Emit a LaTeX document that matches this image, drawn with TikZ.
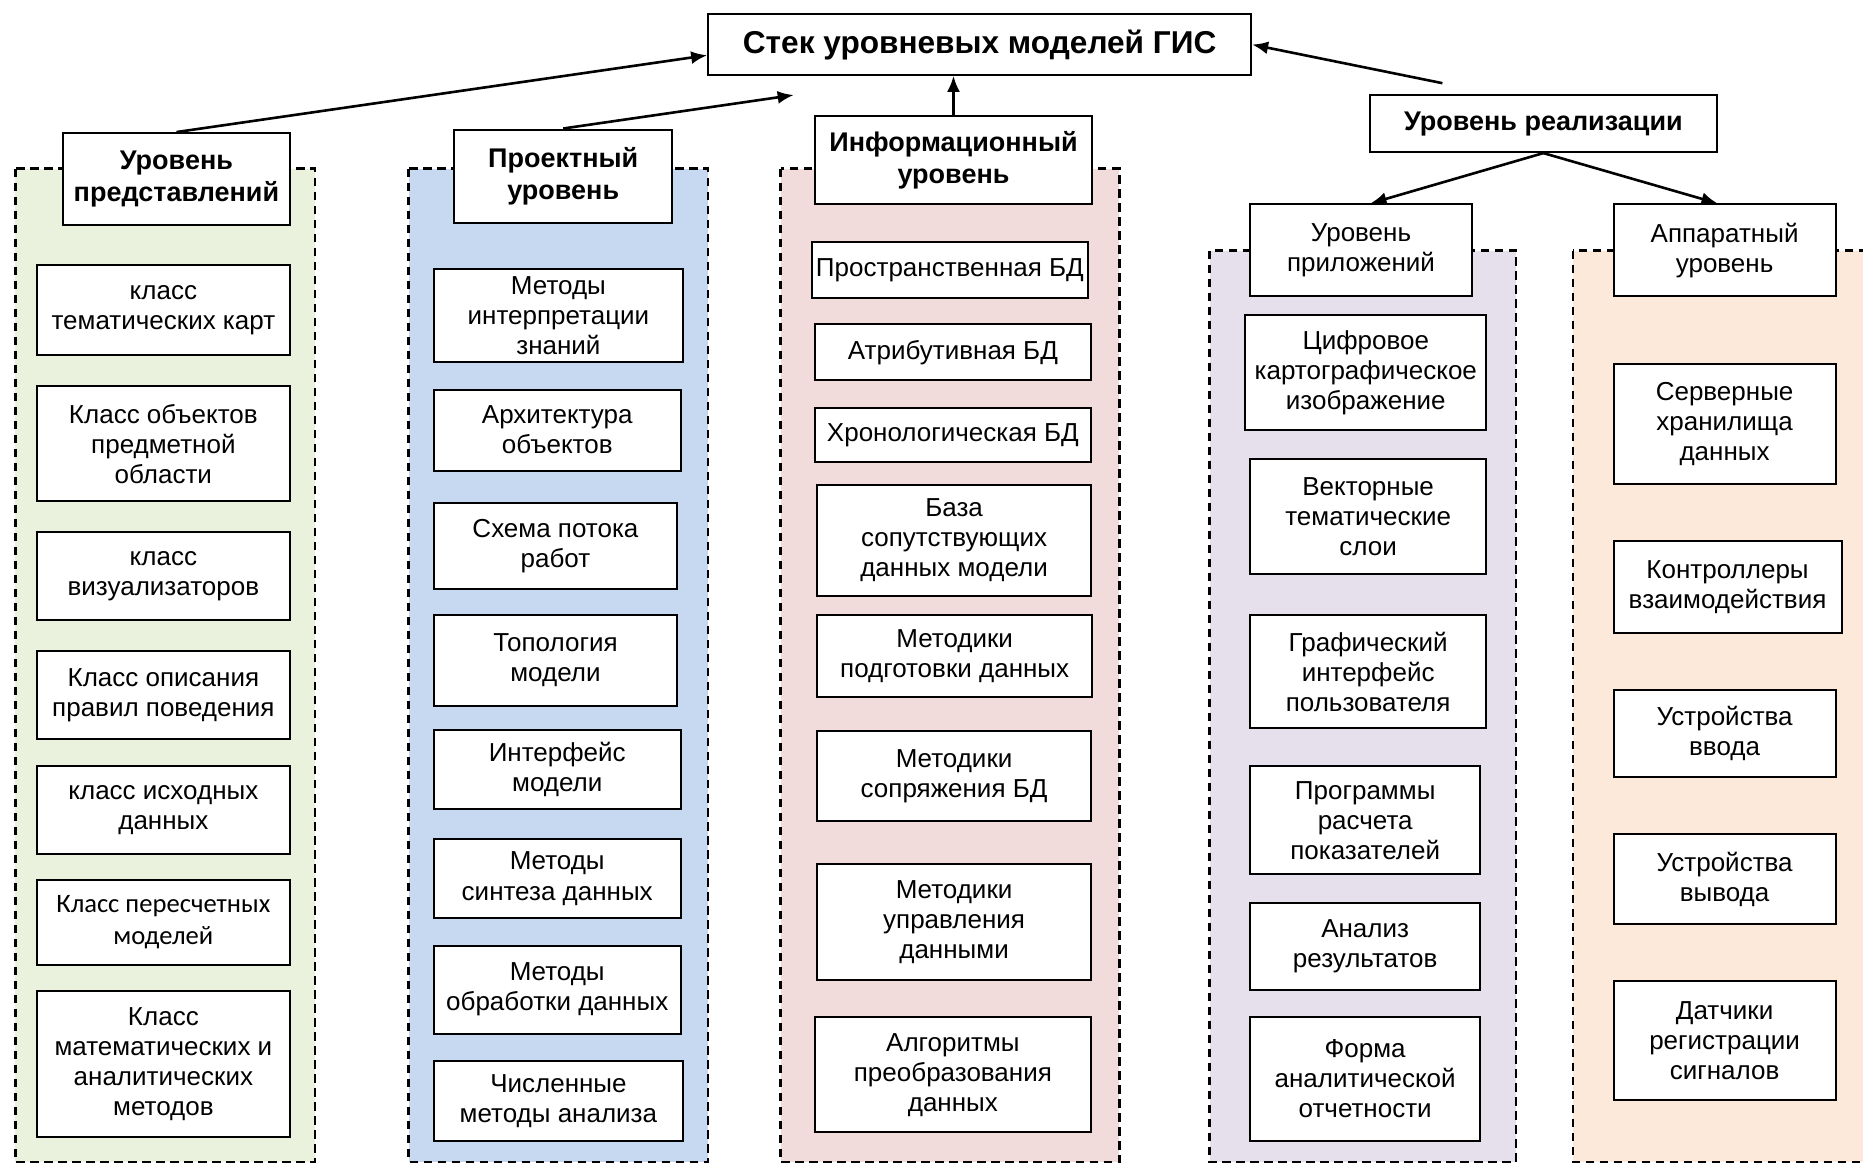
\documentclass[tikz,border=0pt]{standalone}
\usepackage{fontspec}
\setmainfont{Liberation Sans}
\newfontfamily\calibrifont{Carlito}
\usetikzlibrary{arrows.meta,calc}

% a framed box spanning two corners (x1,y1) (x2,y2)
\newcommand\gisbox[7]{%
  \pgfmathsetmacro\gisw{(#5-#3)*0.594}%
  \pgfmathsetmacro\gish{(#6-#4)*0.594}%
  \node[#1,minimum width=\gisw pt,minimum height=\gish pt] (#2)
    at ({(#3+#5)/2},{(#4+#6)/2}) {#7};}

\definecolor{pgreen}{HTML}{EAF1DD}
\definecolor{pblue}{HTML}{C6D9F1}
\definecolor{ppink}{HTML}{F2DCDB}
\definecolor{plav}{HTML}{E5E0EC}
\definecolor{ppeach}{HTML}{FDE9D9}

\begin{document}
\begin{tikzpicture}[x=0.594pt,y=-0.594pt,
  item/.style={draw,fill=white,line width=1pt,inner sep=0pt,align=center,
    font=\fontsize{13}{15}\selectfont},
  head/.style={item,font=\bfseries\fontsize{13.5}{16}\selectfont},
  title/.style={item,font=\bfseries\fontsize{15.8}{18}\selectfont},
  panel/.style={draw,line width=1.3pt,dash pattern=on 4.2pt off 2.8pt},
  arr/.style={-{Latex[length=8pt,width=6.5pt]},line width=1.3pt}]

\path[use as bounding box,clip] (0,0) rectangle (1568,980);
\fill[white] (0,0) rectangle (1568,980);

% dashed level panels
\draw[panel,fill=pgreen] (13,142) rectangle (265,978);
\draw[panel,fill=pblue] (344,142) rectangle (596,978);
\draw[panel,fill=ppink] (657,142) rectangle (942,978);
\draw[panel,fill=plav] (1018,211) rectangle (1276,978);
\draw[panel,fill=ppeach] (1324,211) rectangle (1600,978);

% title and level headers
\gisbox{title}{stack}{596}{12}{1053}{63}{Стек уровневых моделей ГИС}
\gisbox{head}{rep}{53}{112}{244}{189}{Уровень\\представлений}
\gisbox{head}{proj}{382}{109}{566}{188}{Проектный\\уровень}
\gisbox{head}{info}{686}{98}{919}{172}{Информационный\\уровень}
\gisbox{head}{impl}{1153}{80}{1445}{128}{Уровень реализации}
\gisbox{item}{app}{1052}{172}{1239}{249}{Уровень\\приложений}
\gisbox{item}{hw}{1358}{172}{1545}{249}{Аппаратный\\уровень}

% representation level
\gisbox{item}{r1}{31}{223}{244}{299}{класс\\тематических карт}
\gisbox{item}{r2}{31}{325}{244}{422}{Класс объектов\\предметной\\области}
\gisbox{item}{r3}{31}{448}{244}{522}{класс\\визуализаторов}
\gisbox{item}{r4}{31}{548}{244}{622}{Класс описания\\правил поведения}
\gisbox{item}{r5}{31}{645}{244}{719}{класс исходных\\данных}
\gisbox{item,font=\calibrifont\fontsize{13.3}{16}\selectfont}{r6}{31}{741}{244}{812}{Класс пересчетных\\моделей}
\gisbox{item}{r7}{31}{834}{244}{957}{Класс\\математических и\\аналитических\\методов}

% design level
\gisbox{item}{d1}{365}{226}{575}{305}{Методы\\интерпретации\\знаний}
\gisbox{item}{d2}{365}{328}{573}{396}{Архитектура\\объектов}
\gisbox{item}{d3}{365}{423}{570}{496}{Схема потока\\работ}
\gisbox{item}{d4}{365}{518}{570}{594}{Топология\\модели}
\gisbox{item}{d5}{365}{614}{573}{681}{Интерфейс\\модели}
\gisbox{item}{d6}{365}{706}{573}{773}{Методы\\синтеза данных}
\gisbox{item}{d7}{365}{796}{573}{870}{Методы\\обработки данных}
\gisbox{item}{d8}{365}{893}{575}{960}{Численные\\методы анализа}

% information level
\gisbox{item}{i1}{683}{204}{916}{251}{Пространственная БД}
\gisbox{item}{i2}{686}{273}{918}{320}{Атрибутивная БД}
\gisbox{item}{i3}{686}{343}{918}{389}{Хронологическая БД}
\gisbox{item}{i4}{688}{408}{918}{502}{База\\сопутствующих\\данных модели}
\gisbox{item}{i5}{688}{518}{919}{587}{Методики\\подготовки данных}
\gisbox{item}{i6}{688}{615}{918}{691}{Методики\\сопряжения БД}
\gisbox{item}{i7}{688}{727}{918}{825}{Методики\\управления\\данными}
\gisbox{item}{i8}{686}{856}{918}{953}{Алгоритмы\\преобразования\\данных}

% application level
\gisbox{item}{a1}{1048}{265}{1251}{362}{Цифровое\\картографическое\\изображение}
\gisbox{item}{a2}{1052}{386}{1251}{483}{Векторные\\тематические\\слои}
\gisbox{item}{a3}{1052}{518}{1251}{613}{Графический\\интерфейс\\пользователя}
\gisbox{item}{a4}{1052}{645}{1246}{736}{Программы\\расчета\\показателей}
\gisbox{item}{a5}{1052}{760}{1246}{833}{Анализ\\результатов}
\gisbox{item}{a6}{1052}{856}{1246}{960}{Форма\\аналитической\\отчетности}

% hardware level
\gisbox{item}{h1}{1358}{306}{1545}{407}{Серверные\\хранилища\\данных}
\gisbox{item}{h2}{1358}{455}{1550}{533}{Контроллеры\\взаимодействия}
\gisbox{item}{h3}{1358}{581}{1545}{654}{Устройства\\ввода}
\gisbox{item}{h4}{1358}{702}{1545}{778}{Устройства\\вывода}
\gisbox{item}{h5}{1358}{826}{1545}{926}{Датчики\\регистрации\\сигналов}

% connectors
\coordinate (projend) at (668,80);
\coordinate (implstart) at (1214,70);
\draw[arr] (rep.north) -- ($(stack.west)+(0,9)$);
\draw[arr] (proj.north) -- (projend);
\draw[arr] (info.north) -- (info.north |- stack.south);
\draw[arr] (implstart) -- (stack.east);
\draw[arr] (impl.south) -- ($(app.north)+(8,0)$);
\draw[arr] (impl.south) -- ($(hw.north)+(-6,0)$);
\end{tikzpicture}
\end{document}
